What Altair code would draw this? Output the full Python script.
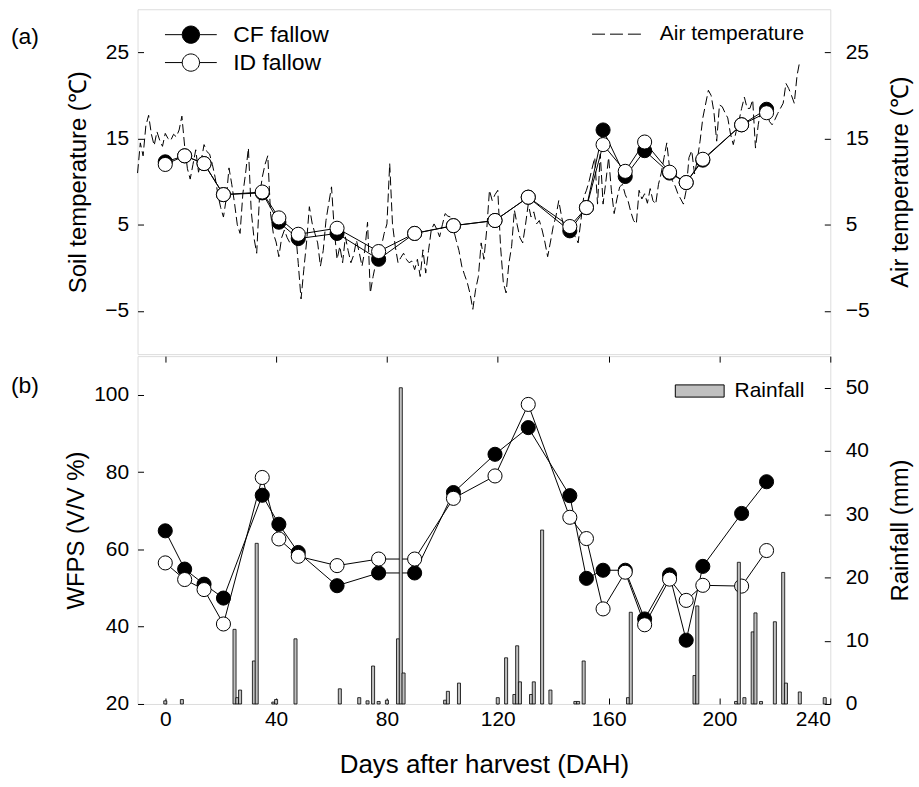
import altair as alt
import pandas as pd

# ---------------- data ----------------
sample_days = [0, 7, 14, 21, 35, 41, 48, 62, 77, 90, 104, 119, 131, 146, 152, 158, 166, 173, 182, 188, 194, 208, 217]
soil_cf = [12.3, 13.0, 12.1, 8.5, 8.7, 5.3, 3.4, 4.0, 1.0, 4.0, 4.9, 5.5, 8.2, 4.3, 7.0, 16.0, 10.6, 13.6, 11.0, 9.9, 12.5, 16.6, 18.4]
soil_id = [12.0, 13.0, 12.1, 8.5, 8.8, 5.8, 3.9, 4.6, 1.9, 4.0, 4.9, 5.5, 8.2, 4.8, 7.0, 14.3, 11.2, 14.6, 11.1, 9.9, 12.6, 16.6, 18.0]
wfps_cf = [64.8, 54.9, 51.0, 47.4, 74.0, 66.5, 59.2, 50.6, 53.9, 53.9, 74.7, 84.6, 91.5, 73.9, 52.5, 54.6, 54.6, 42.0, 53.4, 36.5, 55.6, 69.3, 77.5]
wfps_id = [56.5, 52.2, 49.6, 40.7, 78.6, 62.7, 58.2, 55.8, 57.5, 57.5, 73.2, 79.0, 97.5, 68.3, 62.8, 44.6, 54.1, 40.5, 52.3, 46.8, 50.7, 50.5, 59.7]

air_first_day = -10
air_temp = [
    11.0, 14.5, 13.0, 16.5, 17.7, 15.5, 14.2, 15.8, 14.8, 14.1,
    15.6, 15.0, 14.8, 15.5, 15.2, 16.0, 17.6, 14.1, 11.5, 10.3,
    12.0, 13.7, 11.1, 12.5, 14.3, 13.5, 13.2, 12.0, 10.5, 8.5,
    7.0, 5.9, 8.0, 11.6, 9.7, 7.5, 5.0, 4.0, 8.6, 11.0,
    13.9, 6.7, 3.5, 1.7, 8.2, 10.5, 12.0, 13.0, 6.3, 4.0,
    3.0, 1.3, 3.5, 4.4, 3.5, 2.9, 3.5, 4.4, 0.5, -3.6,
    -0.2, 3.0, 7.1, 5.2, 4.0, 2.9, 0.2, 2.0, 5.5, 7.5,
    9.4, 4.4, 1.0, 2.5, 0.6, 3.6, 2.0, 0.6, 1.5, 3.2,
    1.8, 0.2, 2.0, 5.3, -2.9, -1.0, 0.6, 1.5, 2.5, 4.0,
    5.1, 12.1, 5.1, 2.5, 0.6, 1.2, 1.7, 1.0, 0.6, 0.8,
    -0.2, 1.0, -1.0, 2.1, -0.6, 2.0, 4.4, 5.1, 4.5, 3.6,
    5.0, 6.3, 6.0, 5.9, 4.5, 3.2, 2.0, 0.2, -0.8, -1.7,
    -3.0, -4.8, -2.5, -1.0, 2.9, 1.0, 4.4, 9.0, 7.8, 8.5,
    9.0, 2.5, -1.7, -2.9, 0.5, 2.5, 6.7, 5.0, 3.5, 2.9,
    5.0, 7.4, 5.9, 6.5, 5.1, 5.5, 4.4, 3.0, 1.3, 3.0,
    4.8, 6.0, 7.8, 6.0, 4.4, 5.1, 4.5, 4.0, 3.6, 2.9,
    5.5, 8.2, 9.0, 10.1, 11.5, 12.8, 7.4, 13.2, 7.4, 10.0,
    12.8, 9.0, 6.3, 8.0, 9.4, 9.7, 8.5, 7.8, 6.5, 5.5,
    5.1, 9.0, 8.0, 8.6, 7.5, 9.2, 7.8, 7.4, 9.7, 11.0,
    12.8, 14.5, 11.6, 10.1, 9.5, 8.6, 8.0, 7.4, 9.0, 12.8,
    13.6, 10.9, 12.5, 14.7, 17.4, 19.0, 20.6, 20.0, 18.1, 14.7,
    18.9, 18.7, 18.0, 17.4, 15.5, 14.3, 15.8, 17.0, 18.5, 19.8,
    18.5, 18.5, 19.5, 13.9, 16.6, 18.5, 18.0, 19.1, 17.0, 16.6,
    17.2, 17.9, 18.5, 19.1, 21.4, 20.8, 20.0, 19.1, 22.3, 24.0,
]

rain_days = [0, 6, 25, 26, 27, 32, 33, 39, 40, 47, 63, 70, 73, 75, 77, 80, 84, 85, 86, 101,
             102, 106, 120, 123, 126, 127, 128, 132, 133, 136, 139, 148, 149, 151, 167, 168, 191, 192, 206, 207,
             209, 212, 213, 215, 220, 223, 224, 229, 238]
rain_mm = [0.5, 0.7, 11.8, 1.0, 2.2, 6.8, 25.4, 0.3, 0.7, 10.3, 2.4, 1.0, 0.5, 6.0, 0.4, 0.6, 10.3, 50.0, 4.9, 0.6,
           2.0, 3.3, 1.0, 7.3, 1.5, 9.2, 3.5, 1.5, 3.5, 27.5, 2.2, 0.4, 0.4, 6.8, 1.0, 14.5, 4.5, 15.5, 0.4, 22.4,
           1.0, 11.4, 14.4, 0.4, 13.0, 20.8, 3.3, 1.9, 1.0]

treatments = ["CF fallow", "ID fallow"]
x_ticks = [0, 40, 80, 120, 160, 200, 240]

# ---------------- tables ----------------
n = len(sample_days)
soil_df = pd.DataFrame({"day": sample_days * 2, "temp": soil_cf + soil_id,
                        "treatment": [treatments[0]] * n + [treatments[1]] * n})
wfps_df = pd.DataFrame({"day": sample_days * 2, "wfps": wfps_cf + wfps_id,
                        "treatment": [treatments[0]] * n + [treatments[1]] * n})
air_df = pd.DataFrame({"day": list(range(air_first_day, air_first_day + len(air_temp))),
                       "temp": air_temp, "series": "Air temperature"})
rain_df = pd.DataFrame({"day": rain_days, "mm": rain_mm, "series": "Rainfall"})

# ---------------- styling helpers ----------------
FONT = "Liberation Sans"
W, H_TOP, H_BOT = 695, 346, 349
LP_PATH = "M-3,0H-1M1,0A1,1,0,1,1,-1,0A1,1,0,1,1,1,0M1,0H3"
RECT_PATH = "M-2,-0.5H2V0.5H-2Z"
DASH_PATH = "M-2,0H2"

xscale = alt.Scale(domain=[-10, 240], nice=False, zero=False)


def x_axis(orient, with_labels=False):
    kw = dict(orient=orient, values=x_ticks, domain=False, grid=False, ticks=True,
              tickSize=6, offset=-6, tickColor="black", labels=with_labels)
    if with_labels:
        kw.update(labelFont=FONT, labelFontSize=21, labelColor="black", labelPadding=5,
                  format="d", title="Days after harvest (DAH)", titleFont=FONT,
                  titleFontSize=26, titleFontWeight="normal", titleColor="black", titlePadding=22)
    else:
        kw.update(title=None)
    return alt.Axis(**kw)


def y_axis(orient, values, title, title_pad, label_pad, angle=None):
    kw = dict(orient=orient, values=values, title=title, domain=False, grid=False, ticks=True,
              tickSize=6, offset=-6, tickColor="black", labelFont=FONT, labelFontSize=21,
              labelColor="black", labelPadding=label_pad, titleFont=FONT, titleFontSize=24,
              titleFontWeight="normal", titleColor="black", titlePadding=title_pad, format="d")
    if angle is not None:
        kw["titleAngle"] = angle
        kw["titleBaseline"] = "top"
    return alt.Axis(**kw)


fill_scale = alt.Scale(domain=treatments, range=["black", "white"])

# ---------------- top panel ----------------
soil_y = alt.Scale(domain=[-10, 30], nice=False, zero=False)

soil_lines = alt.Chart(soil_df).mark_line(color="black", strokeWidth=1).encode(
    x=alt.X("day:Q", scale=xscale, axis=x_axis("bottom")),
    y=alt.Y("temp:Q", scale=soil_y,
            axis=y_axis("left", [-5, 5, 15, 25], "Soil temperature (℃)", 14, 9)),
    detail="treatment:N",
)
soil_pts = alt.Chart(soil_df).mark_point(
    shape="circle", size=200, stroke="black", strokeWidth=1, opacity=1, fillOpacity=1
).encode(
    x=alt.X("day:Q", scale=xscale),
    y=alt.Y("temp:Q", scale=soil_y),
    fill=alt.Fill("treatment:N", scale=fill_scale,
                  legend=alt.Legend(title=None, orient="none", legendX=42, legendY=14,
                                    symbolType=LP_PATH, symbolSize=300,
                                    symbolStrokeColor="black", symbolStrokeWidth=1,
                                    labelFont=FONT, labelFontSize=23, labelColor="black",
                                    labelOffset=31, rowPadding=4, labelLimit=0)),
)
air_line = alt.Chart(air_df).mark_line(strokeWidth=1, strokeDash=[9, 4]).encode(
    x=alt.X("day:Q", scale=xscale, axis=None),
    y=alt.Y("temp:Q", scale=soil_y,
            axis=y_axis("right", [-5, 5, 15, 25], "Air temperature (℃)", 20, 15, angle=270)),
    stroke=alt.Stroke("series:N", scale=alt.Scale(domain=["Air temperature"], range=["black"]),
                      legend=alt.Legend(title=None, orient="none", legendX=468, legendY=12,
                                        symbolType=DASH_PATH, symbolSize=625,
                                        symbolDash=[13, 5], symbolStrokeWidth=1,
                                        symbolStrokeColor="black",
                                        labelFont=FONT, labelFontSize=21, labelColor="black",
                                        labelOffset=30, labelLimit=0)),
)
label_a = alt.Chart(pd.DataFrame({"t": ["(a)"]})).mark_text(
    align="left", baseline="middle", font=FONT, fontSize=23, color="black"
).encode(x=alt.value(-127), y=alt.value(28), text="t:N")

top = alt.layer(
    air_line, alt.layer(soil_lines, soil_pts, label_a)
).resolve_scale(y="independent").properties(width=W, height=H_TOP)

# ---------------- bottom panel ----------------
wfps_y = alt.Scale(domain=[20, 110], nice=False, zero=False)

wfps_lines = alt.Chart(wfps_df).mark_line(color="black", strokeWidth=1).encode(
    x=alt.X("day:Q", scale=xscale, axis=x_axis("bottom", with_labels=True)),
    y=alt.Y("wfps:Q", scale=wfps_y,
            axis=y_axis("left", [20, 40, 60, 80, 100], "WFPS (V/V %)", 5, 9)),
    detail="treatment:N",
)
wfps_pts = alt.Chart(wfps_df).mark_point(
    shape="circle", size=200, stroke="black", strokeWidth=1, opacity=1, fillOpacity=1
).encode(
    x=alt.X("day:Q", scale=xscale),
    y=alt.Y("wfps:Q", scale=wfps_y),
    fill=alt.Fill("treatment:N", scale=fill_scale, legend=None),
)
rain_bars = alt.Chart(rain_df).transform_calculate(
    x0="datum.day - 0.55", x1="datum.day + 0.55"
).mark_bar(stroke="black", strokeWidth=0.8).encode(
    x=alt.X("x0:Q", scale=xscale, axis=x_axis("top")),
    x2="x1:Q",
    y=alt.Y("mm:Q", scale=alt.Scale(domain=[0, 55], nice=False, zero=True),
            axis=y_axis("right", [0, 10, 20, 30, 40, 50], "Rainfall (mm)", 20, 15, angle=270)),
    y2=alt.datum(0),
    fill=alt.Fill("series:N", scale=alt.Scale(domain=["Rainfall"], range=["#c0c0c0"]),
                  legend=alt.Legend(title=None, orient="none", legendX=551, legendY=22,
                                    symbolType=RECT_PATH, symbolSize=600,
                                    symbolStrokeColor="black", symbolStrokeWidth=1,
                                    labelFont=FONT, labelFontSize=21, labelColor="black",
                                    labelOffset=22, labelLimit=0)),
)
label_b = alt.Chart(pd.DataFrame({"t": ["(b)"]})).mark_text(
    align="left", baseline="middle", font=FONT, fontSize=23, color="black"
).encode(x=alt.value(-127), y=alt.value(30), text="t:N")

bottom = alt.layer(
    alt.layer(wfps_lines, wfps_pts, label_b), rain_bars
).resolve_scale(y="independent", fill="independent").resolve_axis(x="independent").properties(
    width=W, height=H_BOT)

chart = alt.vconcat(top, bottom, spacing=0).resolve_scale(
    fill="independent", stroke="independent"
).resolve_legend(fill="independent", stroke="independent").configure_view(
    stroke="black", strokeWidth=1
).configure(font=FONT, background="white").properties(
    padding={"left": 10, "top": 7, "right": 5, "bottom": 5}
)

chart.save("out.html", embed_options={"renderer": "svg", "actions": False})
